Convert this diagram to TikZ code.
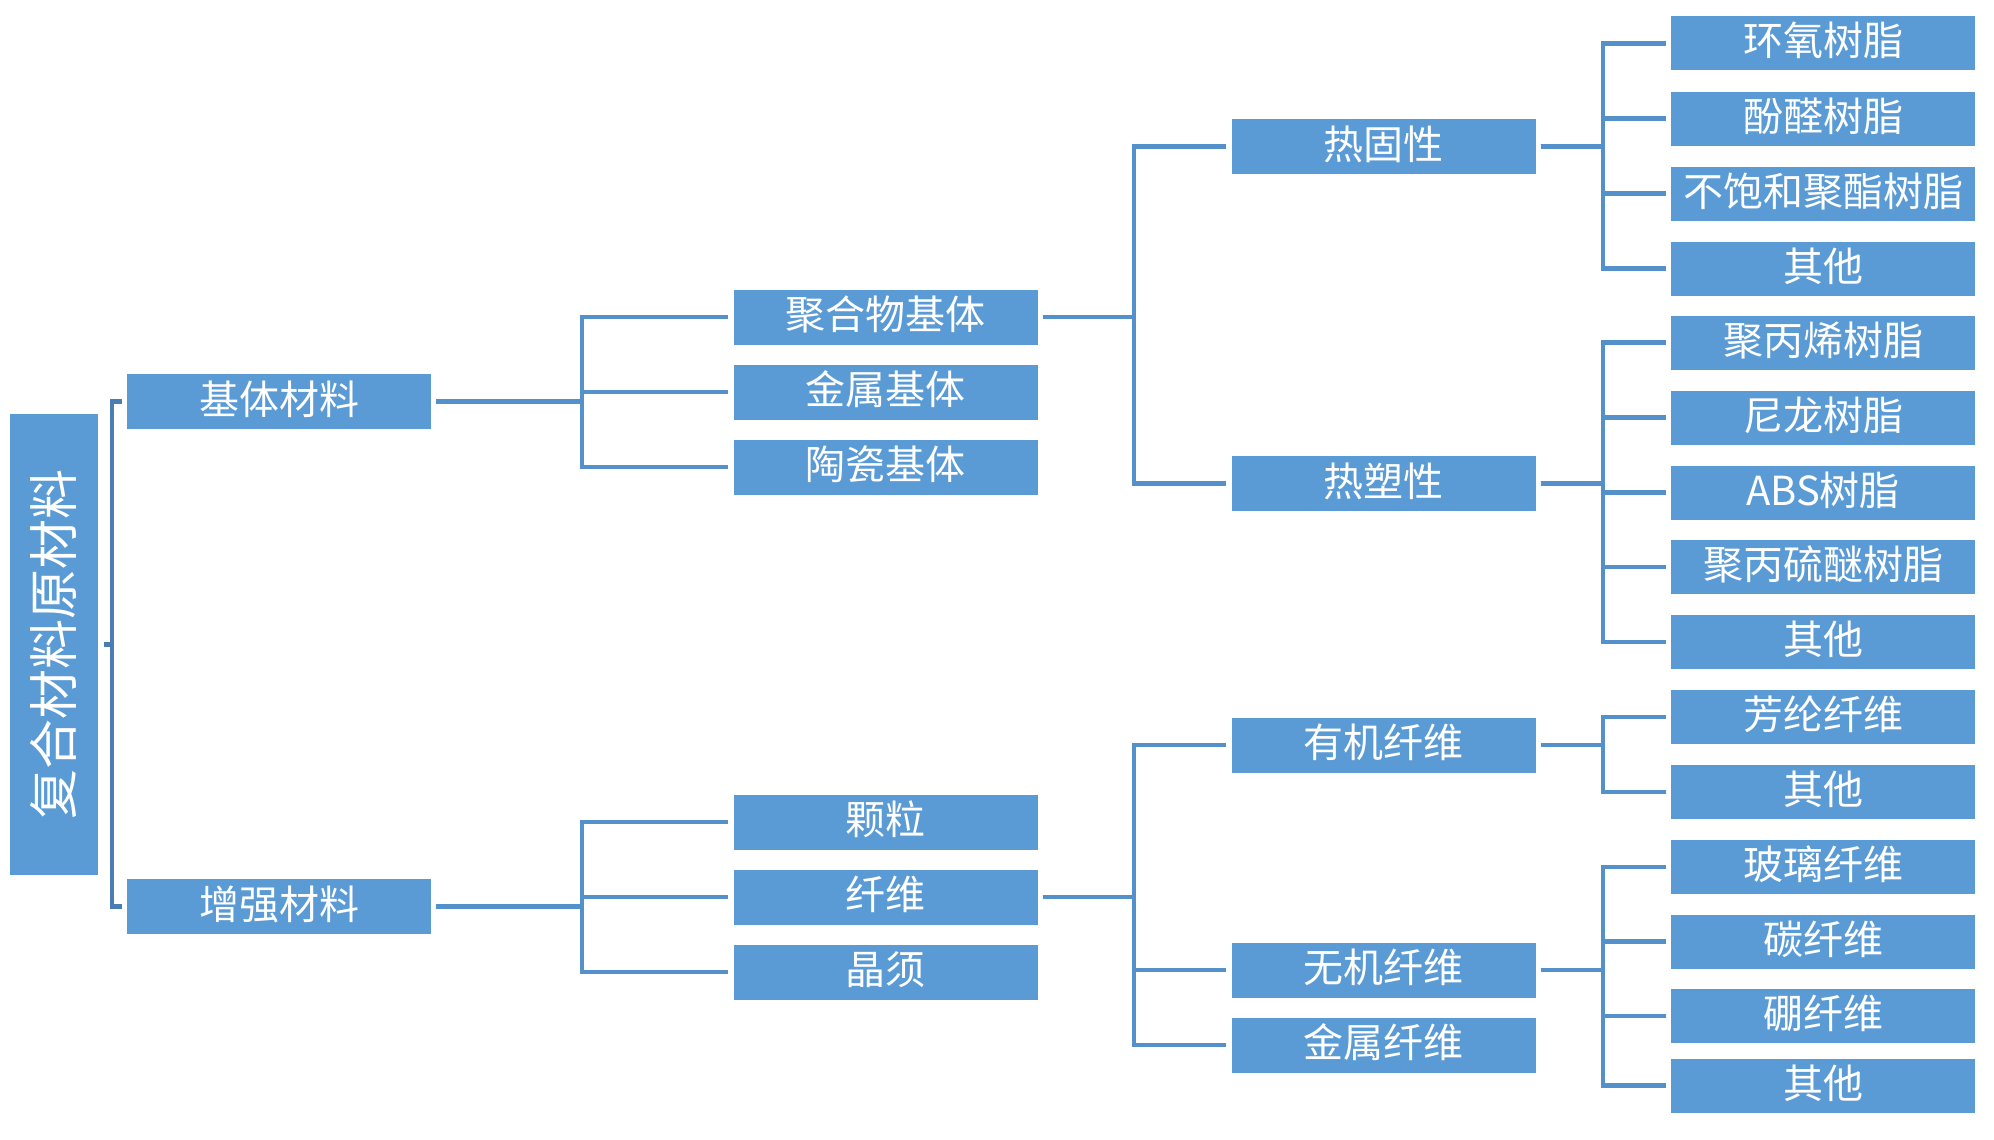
\documentclass[tikz,border=0pt]{standalone}
\usepackage{fontspec}
\newfontfamily\cjk{Noto Sans CJK SC}
\definecolor{boxblue}{HTML}{5B9BD5}
\definecolor{lineblue}{HTML}{5490CA}
\definecolor{brkblue}{HTML}{4A7DB5}
\tikzset{
  box/.style={rectangle, fill=boxblue, text=white, inner sep=0pt, minimum width=304pt, minimum height=55pt,
    font=\cjk\fontsize{40}{40}\selectfont, text height=32.5pt, text depth=7.5pt},
  leafbox/.style={box, minimum height=54pt},
  conn/.style={draw=lineblue, line width=4.5pt},
  brk/.style={draw=brkblue, line width=4.5pt}
}
\begin{document}
\begin{tikzpicture}[x=1pt,y=-1pt]
\useasboundingbox (0,0) rectangle (1994,1140);
% root
\node[rectangle, fill=boxblue, text=white, inner sep=0pt, rotate=90, minimum width=461pt, minimum height=88pt,
  font=\cjk\fontsize{50}{50}\selectfont, text height=43pt, text depth=7pt] (root) at (54,644.5) {复合材料原材料};
% level 1
\node[box] (jt) at (279,401.5) {基体材料};
\node[box] (zq) at (279,906.5) {增强材料};
% level 2
\node[box] (jh) at (885.5,317) {聚合物基体};
\node[box] (js) at (885.5,392) {金属基体};
\node[box] (tc) at (885.5,467) {陶瓷基体};
\node[box] (kl) at (885.5,822) {颗粒};
\node[box] (xw) at (885.5,897) {纤维};
\node[box] (jx) at (885.5,972) {晶须};
% level 3
\node[box] (rg) at (1383.5,146.5) {热固性};
\node[box] (rs) at (1383.5,483.5) {热塑性};
\node[box] (yj) at (1383.5,745) {有机纤维};
\node[box] (wj) at (1383.5,970) {无机纤维};
\node[box] (jsxw) at (1383.5,1045) {金属纤维};
% leaves
\node[leafbox] (a1) at (1823,43.5) {环氧树脂};
\node[leafbox] (a2) at (1823,118.5) {酚醛树脂};
\node[leafbox] (a3) at (1823,193.5) {不饱和聚酯树脂};
\node[leafbox] (a4) at (1823,268.5) {其他};
\node[leafbox] (b1) at (1823,342.5) {聚丙烯树脂};
\node[leafbox] (b2) at (1823,417.5) {尼龙树脂};
\node[leafbox] (b3) at (1823,492.5) {ABS树脂};
\node[leafbox] (b4) at (1823,567) {聚丙硫醚树脂};
\node[leafbox] (b5) at (1823,642) {其他};
\node[leafbox] (c1) at (1823,717) {芳纶纤维};
\node[leafbox] (c2) at (1823,792) {其他};
\node[leafbox] (d1) at (1823,867) {玻璃纤维};
\node[leafbox] (d2) at (1823,941.5) {碳纤维};
\node[leafbox] (d3) at (1823,1016) {硼纤维};
\node[leafbox] (d4) at (1823,1085.5) {其他};
% bus coordinates
\coordinate (bx0) at (112,0);
\coordinate (bx1) at (582,0);
\coordinate (bx2) at (1134,0);
\coordinate (bx3) at (1603,0);
% root bracket
\draw[brk] ([xshift=6pt]root.south) -- (root.south -| bx0);
\draw[brk] ([xshift=-5pt]jt.west) -| (root.south -| bx0) |- ([xshift=-5pt]zq.west);
% tree connectors
\foreach \p/\c/\b in {jt/jh/bx1, jt/js/bx1, jt/tc/bx1, zq/kl/bx1, zq/xw/bx1, zq/jx/bx1,
  jh/rg/bx2, jh/rs/bx2, xw/yj/bx2, xw/wj/bx2, xw/jsxw/bx2,
  rg/a1/bx3, rg/a2/bx3, rg/a3/bx3, rg/a4/bx3,
  rs/b1/bx3, rs/b2/bx3, rs/b3/bx3, rs/b4/bx3, rs/b5/bx3,
  yj/c1/bx3, yj/c2/bx3,
  wj/d1/bx3, wj/d2/bx3, wj/d3/bx3, wj/d4/bx3}{
  \draw[conn] ([xshift=5pt]\p.east) -- (\p.east -| \b) |- ([xshift=-5pt]\c.west);
}
\end{tikzpicture}
\end{document}
